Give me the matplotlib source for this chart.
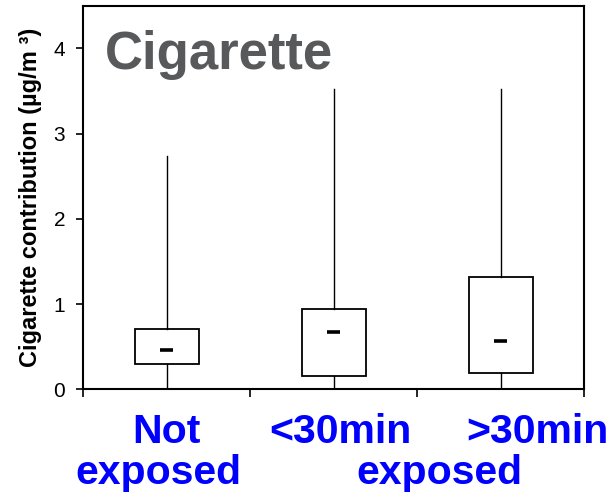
import matplotlib
matplotlib.use("Agg")
import matplotlib.pyplot as plt
import matplotlib.transforms as mtransforms

plt.rcParams["font.family"] = ["Liberation Sans", "DejaVu Sans"]

# box summary per exposure group (µg/m3)
grupos = ["Not exposed", "<30min exposed", ">30min exposed"]
q1 = [0.30, 0.157, 0.195]
mediana = [0.46, 0.67, 0.565]
q3 = [0.706, 0.94, 1.318]
whis_baixo = [0.0, 0.0, 0.0]
whis_alto = [2.74, 3.52, 3.52]

y_ticks = [0, 1, 2, 3, 4]

# category text under the axis: (text, x in data units, line)
rotulos_x = [
    ("Not", 1.0, 1),
    ("exposed", 0.947, 2),
    ("<30min", 2.04, 1),
    (">30min", 3.22, 1),
    ("exposed", 2.63, 2),
]


def gerar_grafico():
    fig = plt.figure(figsize=(6.16, 5.03), dpi=100)
    ax = fig.add_axes([0.1352, 0.226, 0.8133, 0.7627])

    stats = []
    for nome, a, m, b, lo, hi in zip(grupos, q1, mediana, q3, whis_baixo, whis_alto):
        stats.append({"label": nome, "q1": a, "med": m, "q3": b,
                      "whislo": lo, "whishi": hi, "fliers": []})
    pos = list(range(1, len(grupos) + 1))
    ax.bxp(stats, positions=pos, widths=0.38, showcaps=False, showfliers=False,
           patch_artist=True,
           boxprops=dict(facecolor="white", edgecolor="black", linewidth=1.3),
           whiskerprops=dict(color="black", linewidth=1.0),
           medianprops=dict(linewidth=0))

    # short thick median marks
    ax.hlines(mediana, [p - 0.04 for p in pos], [p + 0.04 for p in pos],
              colors="black", linewidth=2.6, zorder=5)

    ax.set_xlim(0.5, 3.5)
    ax.set_ylim(0, 4.5)
    ax.set_xticks([0.5, 1.5, 2.5, 3.5])
    ax.set_xticklabels([])
    ax.tick_params(axis="x", direction="out", length=6, width=1.2)
    ax.set_yticks(y_ticks)
    ax.set_yticklabels([str(v) for v in y_ticks], fontsize=15)
    ax.tick_params(axis="y", direction="out", length=5, width=1.2, pad=8)
    for s in ax.spines.values():
        s.set_linewidth(1.5)

    ax.set_ylabel("Cigarette contribution (µg/m ³)", fontsize=17,
                  fontweight="bold", labelpad=8)

    ax.text(0.043, 0.834, "Cigarette", transform=ax.transAxes, fontsize=38,
            fontweight="bold", color="#58595b", va="baseline", ha="left")

    trans = mtransforms.blended_transform_factory(ax.transData, fig.transFigure)
    base = {1: 0.1199, 2: 0.0378}
    for texto, x, linha in rotulos_x:
        ax.text(x, base[linha], texto, transform=trans, fontsize=29.5,
                fontweight="bold", color="#0000ff", ha="center",
                va="baseline", clip_on=False)

    fig.savefig("out.png", dpi=100)


if __name__ == "__main__":
    gerar_grafico()
